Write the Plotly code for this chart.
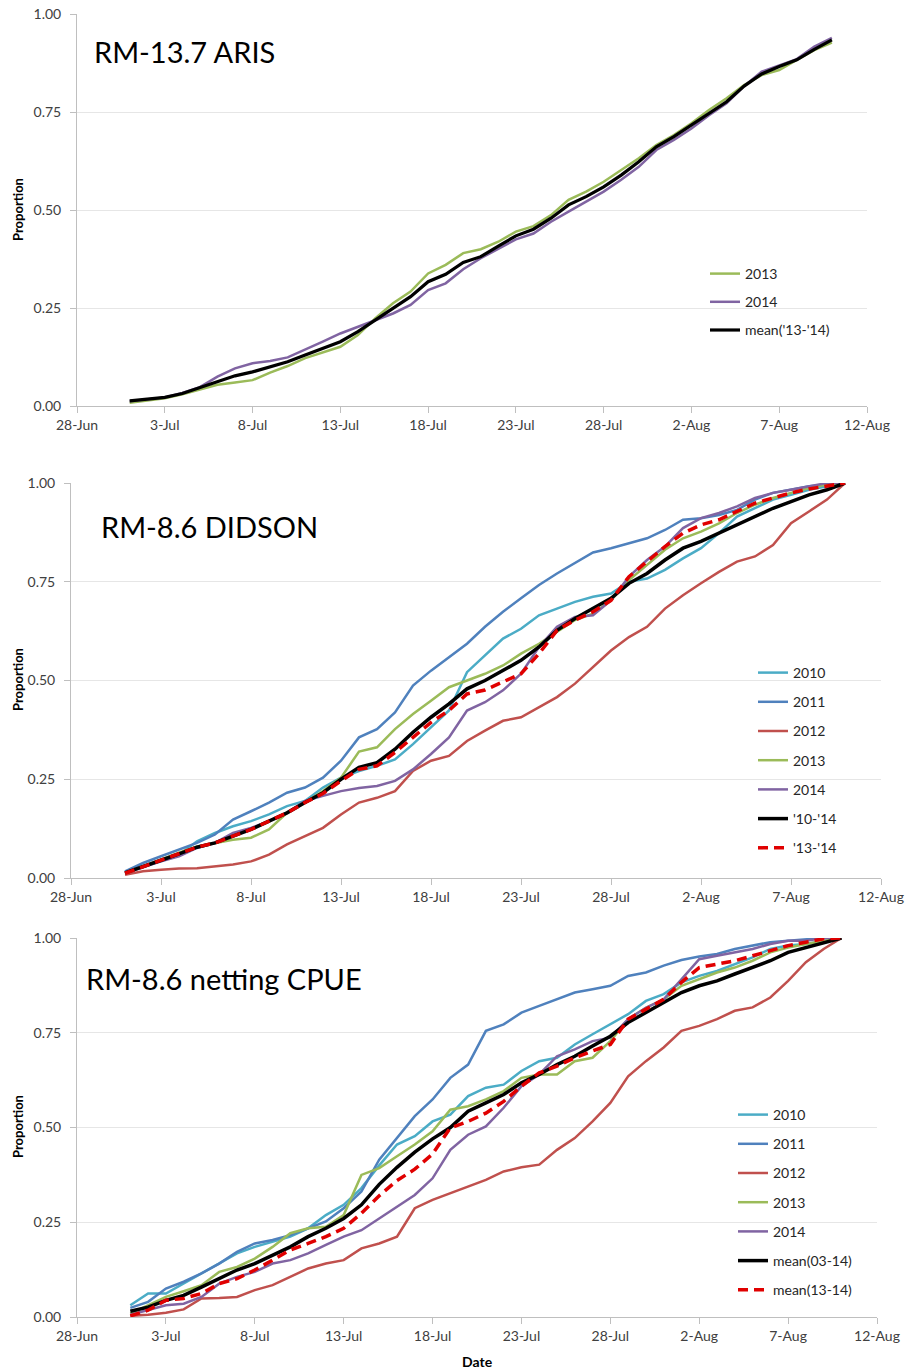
import plotly.graph_objects as go
import pandas as pd

W, H = 908, 1371

# ---------------- data ----------------
dates = pd.date_range("2014-07-01", "2014-08-10", freq="D")
tick_start = "2014-06-28"
x_range = ["2014-06-28", "2014-08-12"]
y_ticks = [0, 0.25, 0.5, 0.75, 1.0]

# Panel 1: RM-13.7 ARIS
aris_2013 = [0.008, 0.014, 0.020, 0.030, 0.042, 0.054, 0.060, 0.066, 0.085, 0.102,
             0.122, 0.136, 0.151, 0.181, 0.224, 0.262, 0.292, 0.338, 0.360, 0.390,
             0.400, 0.419, 0.445, 0.459, 0.487, 0.526, 0.547, 0.572, 0.602, 0.632,
             0.666, 0.691, 0.721, 0.755, 0.785, 0.819, 0.844, 0.857, 0.883, 0.908, 0.927]
aris_2014 = [0.012, 0.017, 0.022, 0.033, 0.048, 0.075, 0.096, 0.109, 0.115, 0.124,
             0.143, 0.164, 0.185, 0.202, 0.219, 0.236, 0.258, 0.296, 0.313, 0.349,
             0.377, 0.402, 0.425, 0.440, 0.470, 0.496, 0.521, 0.547, 0.577, 0.610,
             0.653, 0.679, 0.708, 0.742, 0.772, 0.816, 0.853, 0.870, 0.885, 0.917, 0.939]
aris_mean = [0.013, 0.017, 0.022, 0.032, 0.047, 0.064, 0.077, 0.087, 0.100, 0.113,
             0.130, 0.147, 0.164, 0.190, 0.220, 0.250, 0.279, 0.317, 0.336, 0.366,
             0.381, 0.408, 0.434, 0.451, 0.479, 0.513, 0.534, 0.559, 0.589, 0.623,
             0.661, 0.687, 0.717, 0.747, 0.776, 0.816, 0.847, 0.866, 0.883, 0.910, 0.934]

# Panel 2: RM-8.6 DIDSON
did_2010 = [0.015, 0.030, 0.042, 0.059, 0.093, 0.114, 0.131, 0.144, 0.161, 0.182,
            0.195, 0.229, 0.254, 0.271, 0.284, 0.300, 0.339, 0.381, 0.424, 0.521,
            0.564, 0.606, 0.631, 0.665, 0.682, 0.699, 0.712, 0.720, 0.750, 0.758,
            0.780, 0.809, 0.835, 0.873, 0.915, 0.936, 0.958, 0.970, 0.983, 0.992, 1.000]
did_2011 = [0.017, 0.038, 0.055, 0.072, 0.089, 0.110, 0.148, 0.169, 0.191, 0.216,
            0.229, 0.254, 0.297, 0.356, 0.377, 0.419, 0.487, 0.525, 0.559, 0.593,
            0.636, 0.674, 0.708, 0.742, 0.771, 0.797, 0.824, 0.835, 0.847, 0.860,
            0.881, 0.907, 0.911, 0.919, 0.932, 0.958, 0.975, 0.983, 0.992, 0.996, 1.000]
did_2012 = [0.008, 0.017, 0.021, 0.024, 0.025, 0.030, 0.034, 0.042, 0.059, 0.085,
            0.106, 0.127, 0.161, 0.191, 0.203, 0.220, 0.271, 0.297, 0.309, 0.347,
            0.373, 0.398, 0.407, 0.432, 0.458, 0.492, 0.534, 0.576, 0.610, 0.636,
            0.682, 0.716, 0.746, 0.775, 0.801, 0.814, 0.843, 0.898, 0.928, 0.958, 1.000]
did_2013 = [0.012, 0.030, 0.047, 0.064, 0.080, 0.089, 0.097, 0.102, 0.123, 0.165,
            0.191, 0.220, 0.254, 0.320, 0.331, 0.377, 0.415, 0.449, 0.483, 0.500,
            0.517, 0.538, 0.568, 0.593, 0.623, 0.653, 0.669, 0.703, 0.754, 0.792,
            0.831, 0.860, 0.877, 0.898, 0.924, 0.945, 0.962, 0.975, 0.987, 0.996, 1.000]
did_2014 = [0.012, 0.027, 0.042, 0.055, 0.076, 0.089, 0.114, 0.127, 0.144, 0.165,
            0.195, 0.208, 0.220, 0.228, 0.233, 0.246, 0.275, 0.314, 0.356, 0.424,
            0.445, 0.475, 0.517, 0.585, 0.636, 0.661, 0.665, 0.703, 0.763, 0.805,
            0.839, 0.886, 0.911, 0.924, 0.941, 0.962, 0.975, 0.983, 0.992, 1.000, 1.000]
did_mean_10_14 = [0.013, 0.030, 0.045, 0.061, 0.078, 0.089, 0.106, 0.123, 0.144, 0.165,
                  0.191, 0.216, 0.250, 0.280, 0.292, 0.326, 0.369, 0.407, 0.441, 0.479,
                  0.500, 0.525, 0.551, 0.585, 0.627, 0.657, 0.682, 0.708, 0.746, 0.771,
                  0.805, 0.835, 0.852, 0.873, 0.894, 0.915, 0.936, 0.953, 0.970, 0.983, 1.000]
did_mean_13_14 = [0.012, 0.028, 0.045, 0.060, 0.078, 0.089, 0.105, 0.123, 0.144, 0.165,
                  0.191, 0.214, 0.246, 0.275, 0.284, 0.318, 0.356, 0.394, 0.424, 0.466,
                  0.476, 0.496, 0.517, 0.568, 0.627, 0.653, 0.674, 0.703, 0.763, 0.801,
                  0.839, 0.873, 0.894, 0.907, 0.928, 0.949, 0.962, 0.975, 0.985, 0.993, 1.000]

# Panel 3: RM-8.6 netting CPUE
net_2010 = [0.031, 0.062, 0.062, 0.088, 0.115, 0.141, 0.168, 0.185, 0.199, 0.212,
            0.234, 0.269, 0.296, 0.340, 0.400, 0.455, 0.477, 0.516, 0.534, 0.583,
            0.605, 0.613, 0.649, 0.675, 0.684, 0.719, 0.746, 0.772, 0.799, 0.834,
            0.852, 0.883, 0.900, 0.913, 0.931, 0.949, 0.971, 0.980, 0.984, 0.993, 1.000]
net_2011 = [0.024, 0.040, 0.075, 0.093, 0.115, 0.141, 0.172, 0.194, 0.203, 0.216,
            0.234, 0.252, 0.287, 0.331, 0.415, 0.472, 0.530, 0.574, 0.631, 0.666,
            0.755, 0.772, 0.803, 0.821, 0.838, 0.856, 0.865, 0.874, 0.900, 0.909,
            0.927, 0.942, 0.951, 0.958, 0.971, 0.980, 0.989, 0.993, 0.997, 1.000, 1.000]
net_2012 = [0.003, 0.006, 0.011, 0.020, 0.049, 0.050, 0.053, 0.071, 0.084, 0.106,
            0.128, 0.141, 0.150, 0.181, 0.194, 0.212, 0.287, 0.309, 0.327, 0.344,
            0.362, 0.384, 0.395, 0.402, 0.441, 0.472, 0.516, 0.565, 0.635, 0.675,
            0.711, 0.755, 0.768, 0.786, 0.808, 0.817, 0.843, 0.887, 0.936, 0.971, 1.000]
net_2013 = [0.009, 0.031, 0.053, 0.068, 0.084, 0.119, 0.132, 0.154, 0.185, 0.221,
            0.234, 0.238, 0.269, 0.375, 0.393, 0.424, 0.455, 0.490, 0.547, 0.556,
            0.574, 0.596, 0.631, 0.640, 0.640, 0.675, 0.684, 0.728, 0.786, 0.816,
            0.838, 0.874, 0.891, 0.909, 0.922, 0.940, 0.962, 0.975, 0.984, 0.993, 1.000]
net_2014 = [0.006, 0.018, 0.031, 0.035, 0.053, 0.088, 0.106, 0.119, 0.141, 0.150,
            0.168, 0.190, 0.212, 0.229, 0.260, 0.291, 0.322, 0.366, 0.441, 0.481,
            0.503, 0.552, 0.609, 0.640, 0.688, 0.706, 0.728, 0.737, 0.786, 0.816,
            0.838, 0.891, 0.944, 0.953, 0.962, 0.971, 0.984, 0.993, 0.993, 1.000, 1.000]
net_mean_03_14 = [0.015, 0.026, 0.044, 0.057, 0.079, 0.101, 0.124, 0.141, 0.163, 0.185,
                  0.212, 0.234, 0.260, 0.296, 0.350, 0.395, 0.435, 0.470, 0.500, 0.543,
                  0.565, 0.587, 0.618, 0.640, 0.666, 0.688, 0.715, 0.741, 0.777, 0.803,
                  0.830, 0.856, 0.874, 0.887, 0.905, 0.922, 0.940, 0.962, 0.975, 0.989, 1.000]
net_mean_13_14 = [0.003, 0.018, 0.044, 0.049, 0.062, 0.088, 0.101, 0.124, 0.150, 0.177,
                  0.194, 0.212, 0.234, 0.274, 0.320, 0.360, 0.390, 0.430, 0.499, 0.516,
                  0.538, 0.569, 0.609, 0.644, 0.662, 0.684, 0.702, 0.719, 0.786, 0.812,
                  0.838, 0.883, 0.922, 0.931, 0.940, 0.953, 0.966, 0.980, 0.989, 0.998, 1.000]

# ---------------- styling ----------------
FONT = "Lato"
C_TEAL, C_BLUE, C_RED, C_GREEN, C_PURPLE = "#4BACC6", "#4F81BD", "#C0504D", "#9BBB59", "#8064A2"
C_BLACK, C_DASH = "#000000", "#E00000"
DASH = "10px,6px"

fig = go.Figure()

def add(y, name, color, xa, ya, legend, width=2.5, dash="solid"):
    fig.add_trace(go.Scatter(
        x=dates, y=y, name=name, mode="lines",
        line=dict(color=color, width=width, dash=dash),
        xaxis=xa, yaxis=ya, legend=legend, legendgroup=f"{legend}-{name}",
    ))

# panel 1
add(aris_2013, "2013", C_GREEN, "x", "y", "legend")
add(aris_2014, "2014", C_PURPLE, "x", "y", "legend")
add(aris_mean, "mean('13-'14)", C_BLACK, "x", "y", "legend", width=3.2)

# panel 2
add(did_2010, "2010", C_TEAL, "x2", "y2", "legend2")
add(did_2011, "2011", C_BLUE, "x2", "y2", "legend2")
add(did_2012, "2012", C_RED, "x2", "y2", "legend2")
add(did_2013, "2013", C_GREEN, "x2", "y2", "legend2")
add(did_2014, "2014", C_PURPLE, "x2", "y2", "legend2")
add(did_mean_10_14, "'10-'14", C_BLACK, "x2", "y2", "legend2", width=3.5)
add(did_mean_13_14, "'13-'14", C_DASH, "x2", "y2", "legend2", width=3.5, dash=DASH)

# panel 3
add(net_2010, "2010", C_TEAL, "x3", "y3", "legend3")
add(net_2011, "2011", C_BLUE, "x3", "y3", "legend3")
add(net_2012, "2012", C_RED, "x3", "y3", "legend3")
add(net_2013, "2013", C_GREEN, "x3", "y3", "legend3")
add(net_2014, "2014", C_PURPLE, "x3", "y3", "legend3")
add(net_mean_03_14, "mean(03-14)", C_BLACK, "x3", "y3", "legend3", width=3.5)
add(net_mean_13_14, "mean(13-14)", C_DASH, "x3", "y3", "legend3", width=3.5, dash=DASH)

# helpers: window pixel -> paper fraction
def px_x(p):
    return p / W

def px_y(p):
    return 1 - p / H

tickfont = dict(family=FONT, size=14, color="#404040")

def xaxis(domain, anchor):
    return dict(domain=domain, anchor=anchor, type="date", range=x_range,
                tick0=tick_start, dtick=5 * 86400000, tickformat="%-d-%b",
                showgrid=False, showline=True, linecolor="#BFBFBF", linewidth=1,
                ticks="outside", ticklen=6, tickcolor="#BFBFBF", tickfont=tickfont,
                ticklabeloverflow="allow",
                zeroline=False, fixedrange=True, automargin=False)

def yaxis(domain, anchor):
    return dict(domain=domain, anchor=anchor, range=[0, 1.0], tickvals=y_ticks,
                tickformat=".2f", showgrid=True, gridcolor="#E6E6E6", gridwidth=1,
                showline=True, linecolor="#BFBFBF", linewidth=1,
                ticks="outside", ticklen=6, tickcolor="#BFBFBF", tickfont=tickfont,
                ticklabelstandoff=6, ticklabeloverflow="allow",
                zeroline=False, fixedrange=True, automargin=False)

panels = [  # (x0, x1, ytop, ybottom) in window pixels
    (77, 867, 14, 406),
    (71, 881, 483, 878),
    (77, 877, 938, 1317),
]

layout = dict(
    width=W, height=H, margin=dict(l=0, r=0, t=0, b=0, pad=0, autoexpand=False),
    paper_bgcolor="white", plot_bgcolor="white",
    font=dict(family=FONT, color="#000000"),
    hovermode=False,
)
for i, (x0, x1, yt, yb) in enumerate(panels):
    sfx = "" if i == 0 else str(i + 1)
    layout["xaxis" + sfx] = xaxis([px_x(x0), px_x(x1)], "y" + sfx)
    layout["yaxis" + sfx] = yaxis([px_y(yb), px_y(yt)], "x" + sfx)

legfont = dict(family=FONT, size=14, color="#262626")
def legend(xp, first_center_px, gap):
    return dict(x=px_x(xp), y=px_y(first_center_px - 16), xanchor="left", yanchor="top",
                bgcolor="rgba(0,0,0,0)", borderwidth=0, font=legfont,
                tracegroupgap=gap, itemclick=False, itemdoubleclick=False)

layout["legend"] = legend(705, 274, 7)
layout["legend2"] = legend(753, 673, 8)
layout["legend3"] = legend(733, 1115, 8)

titles = [("RM-13.7 ARIS", 92, 52), ("RM-8.6 DIDSON", 99, 526), ("RM-8.6 netting CPUE", 84, 978)]
ann = []
for text, xp, yp in titles:
    ann.append(dict(text=text, x=px_x(xp), y=px_y(yp), xref="paper", yref="paper",
                    xanchor="left", yanchor="middle", showarrow=False,
                    font=dict(family=FONT, size=29, color="#000000")))
for yc in (210, 680, 1127):
    ann.append(dict(text="<b>Proportion</b>", x=px_x(18), y=px_y(yc), xref="paper", yref="paper",
                    xanchor="center", yanchor="middle", textangle=-90, showarrow=False,
                    font=dict(family=FONT, size=13, color="#000000")))
ann.append(dict(text="<b>Date</b>", x=px_x(477), y=px_y(1361), xref="paper", yref="paper",
                xanchor="center", yanchor="middle", showarrow=False,
                font=dict(family=FONT, size=14, color="#000000")))
layout["annotations"] = ann

fig.update_layout(**layout)
fig.write_html(
    "out.html",
    config={"displayModeBar": False},
    post_script="document.body.style.margin='0';document.body.style.overflow='hidden';",
)
